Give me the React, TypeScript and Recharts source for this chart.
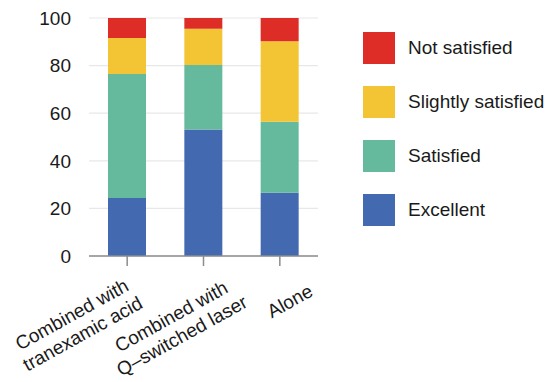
import React from "react";
import { BarChart, Bar, XAxis, YAxis, CartesianGrid, Legend } from "recharts";

// Treatment groups (line breaks split the axis labels)
const categories = [
  "Combined with\ntranexamic acid",
  "Combined with\nQ\u2013switched laser",
  "Alone",
];

// Share of patients per satisfaction level (%)
const excellent = [24.4, 53.1, 26.6];
const satisfied = [52.1, 27.1, 29.8];
const slightlySatisfied = [15.1, 15.3, 33.8];
const notSatisfied = [8.4, 4.5, 9.8];

const yTicks = [0, 20, 40, 60, 80, 100];

const series = [
  { key: "excellent", name: "Excellent", color: "#436ab1" },
  { key: "satisfied", name: "Satisfied", color: "#65b99d" },
  { key: "slightly", name: "Slightly satisfied", color: "#f3c535" },
  { key: "not", name: "Not satisfied", color: "#de2d26" },
];

const data = categories.map((name, i) => ({
  name,
  excellent: excellent[i],
  satisfied: satisfied[i],
  slightly: slightlySatisfied[i],
  not: notSatisfied[i],
}));

const FONT = "'Liberation Sans', Arial, Helvetica, sans-serif";
const TEXT = "#1a1a1a";

// Per-label placement of the rotated category text block
const labelShift = [
  [-50, 56],
  [-27, 58],
  [10, 33],
];

const CategoryTick = (props: any) => {
  const { x, y, payload, index } = props;
  const lines = String(payload.value).split("\n");
  const lh = 22;
  const [dx, dy] = labelShift[index] || [0, 30];
  const start = -((lines.length - 1) * lh) / 2;
  return (
    <g transform={`translate(${x + dx},${y + dy}) rotate(-29)`}>
      <text textAnchor="middle" fontFamily={FONT} fontSize={19} fill={TEXT}>
        {lines.map((ln, i) => (
          <tspan key={i} x={0} y={start + i * lh} dy="0.35em">
            {ln}
          </tspan>
        ))}
      </text>
    </g>
  );
};

// Legend listed top-down from the top of the stack
const LegendBox = (props: any) => {
  const payload = props.payload || [];
  const items = [...series]
    .reverse()
    .map((s) => payload.find((p: any) => p.dataKey === s.key))
    .filter(Boolean);
  return (
    <div style={{ fontFamily: FONT, fontSize: 19, color: TEXT }}>
      {items.map((it: any) => (
        <div
          key={it.value}
          style={{ display: "flex", alignItems: "center", height: 32, marginBottom: 22 }}
        >
          <div style={{ width: 32, height: 32, background: it.color, marginRight: 13 }} />
          <span style={{ whiteSpace: "nowrap" }}>{it.value}</span>
        </div>
      ))}
    </div>
  );
};

export default function App() {
  return (
    <div style={{ position: "absolute", left: 0, top: 0, background: "#fff" }}>
      <BarChart
        width={551}
        height={382}
        data={data}
        margin={{ top: 18, right: 233, left: 0, bottom: 0 }}
        barSize={38}
      >
        <CartesianGrid vertical={false} stroke="#e8e8e8" strokeWidth={1.2} />
        <YAxis
          width={89}
          domain={[0, 100]}
          ticks={yTicks}
          axisLine={false}
          tickLine={false}
          tickMargin={12}
          tick={{ fontSize: 19, fill: TEXT, fontFamily: FONT }}
        />
        <XAxis
          dataKey="name"
          height={126}
          interval={0}
          tickSize={10}
          axisLine={{ stroke: "#8c8c8c", strokeWidth: 1.5 }}
          tickLine={{ stroke: "#8c8c8c", strokeWidth: 1.5 }}
          tick={<CategoryTick />}
        />
        <Legend
          layout="horizontal"
          verticalAlign="middle"
          align="center"
          width={190}
          wrapperStyle={{ left: 363, top: 32, width: 190 }}
          content={<LegendBox />}
        />
        {series.map((s) => (
          <Bar
            key={s.key}
            dataKey={s.key}
            name={s.name}
            stackId="a"
            fill={s.color}
            isAnimationActive={false}
          />
        ))}
      </BarChart>
    </div>
  );
}
